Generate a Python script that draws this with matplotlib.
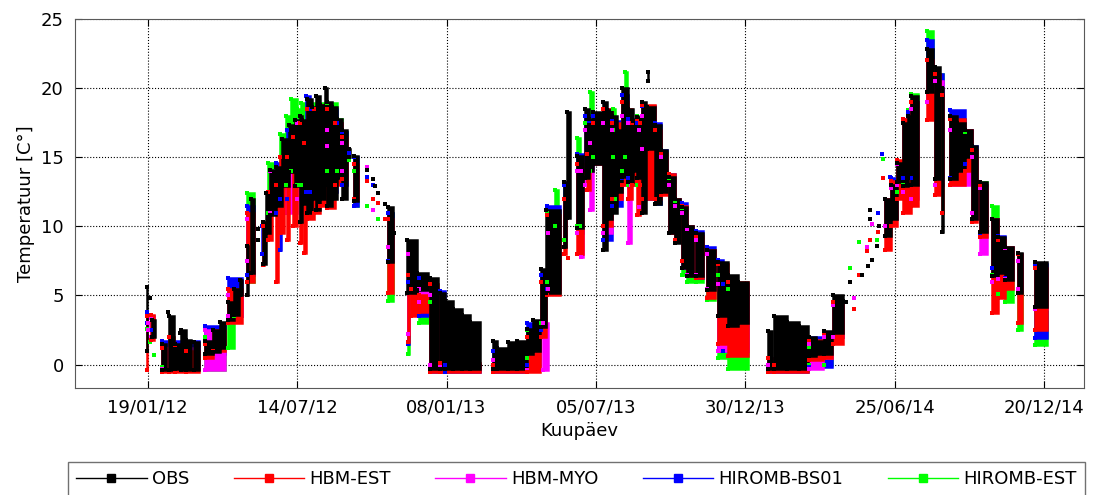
import numpy as np
import matplotlib
matplotlib.use("Agg")
import matplotlib.pyplot as plt
from matplotlib.lines import Line2D

plt.rcParams["font.family"] = ["DejaVu Sans"]
plt.rcParams["font.size"] = 13

# days counted from 01/01/2012; one record = (first day, last day, min T, max T)
obs = [
    (17, 17, 1.0, 5.6), (21, 21, 4.8, 4.8), (23, 27, 2.0, 3.2),
    (35, 40, -0.4, 1.5), (42, 42, 3.8, 3.8), (43, 49, -0.4, 3.5), (51, 56, -0.3, 1.5),
    (56, 56, 2.3, 2.3), (58, 63, -0.4, 2.5), (64, 69, -0.4, 1.8), (73, 79, -0.4, 1.6),
    (86, 96, 0.8, 1.7), (96, 104, 0.9, 2.5), (104, 110, 1.2, 3.1),
    (113, 120, 3.2, 4.5), (120, 126, 3.6, 5.5), (127, 130, 5.0, 6.1),
    (136, 137, 5.0, 8.6), (141, 144, 6.6, 12.0), (149, 149, 9.0, 9.0), (149, 149, 9.8, 9.8),
    (155, 158, 7.3, 10.3), (158, 163, 9.5, 12.4), (163, 170, 10.8, 14.1), (170, 177, 11.5, 14.3),
    (177, 185, 12.9, 16.3), (185, 193, 13.9, 17.3), (193, 198, 12.9, 17.7), (198, 201, 10.3, 18.0),
    (201, 207, 11.6, 17.7), (207, 213, 11.0, 19.2), (213, 218, 12.0, 18.6), (218, 222, 11.2, 19.4),
    (222, 228, 12.0, 18.8), (228, 230, 13.0, 20.0), (230, 236, 11.5, 19.0), (236, 242, 12.0, 18.6),
    (242, 248, 13.5, 17.8), (248, 254, 12.0, 17.0), (256, 258, 15.0, 15.6), (263, 267, 11.8, 15.1),
    (278, 278, 14.1, 14.1), (285, 285, 13.4, 13.4), (287, 287, 12.9, 12.9),
    (291, 291, 12.4, 12.4), (299, 299, 11.6, 11.6), (303, 309, 7.4, 11.4),
    (310, 310, 9.5, 9.5), (325, 337, 5.2, 9.0), (337, 350, 5.4, 6.6), (355, 355, 6.1, 6.1),
    (352, 362, -0.3, 6.3), (364, 370, -0.3, 5.2), (370, 380, -0.3, 4.6),
    (380, 390, -0.3, 4.0), (390, 400, -0.3, 3.6), (400, 412, -0.3, 3.1),
    (427, 432, -0.3, 1.7), (432, 445, -0.3, 1.2), (445, 455, -0.3, 1.6), (455, 467, -0.3, 1.7),
    (467, 475, 0.8, 2.6), (475, 483, 1.0, 3.2), (484, 490, 2.7, 6.9), (490, 506, 5.2, 11.2),
    (511, 514, 8.5, 13.2), (515, 518, 10.6, 18.3), (526, 534, 9.9, 15.1),
    (536, 541, 13.5, 18.5), (541, 546, 14.0, 17.8), (546, 556, 14.5, 18.3), (557, 562, 8.3, 19.0),
    (562, 568, 10.5, 18.4), (568, 574, 11.0, 18.0), (574, 580, 12.5, 17.0), (580, 587, 13.6, 20.0),
    (587, 593, 13.2, 18.5), (593, 598, 14.0, 17.6), (598, 604, 13.5, 17.9), (604, 608, 11.0, 19.0),
    (611, 611, 20.5, 21.2), (610, 619, 15.6, 18.6), (619, 626, 11.6, 17.3), (626, 633, 12.5, 15.5),
    (635, 642, 9.5, 13.6), (642, 649, 8.8, 12.0), (651, 657, 7.0, 11.4), (657, 664, 6.4, 10.0),
    (667, 676, 6.4, 9.5), (681, 690, 5.4, 8.3),
    (694, 705, 3.5, 7.4), (705, 717, 2.8, 6.5), (717, 729, 3.0, 6.0),
    (753, 757, -0.3, 2.4), (760, 775, -0.3, 3.5), (775, 790, -0.3, 3.1), (790, 800, -0.3, 2.8),
    (801, 810, 0.6, 2.0), (810, 818, 0.8, 1.7), (819, 828, 0.8, 2.4), (830, 842, 2.3, 5.0),
    (842, 842, 4.6, 4.6), (845, 845, 4.5, 4.5), (850, 850, 6.0, 6.0),
    (864, 864, 6.5, 6.5), (871, 871, 7.1, 7.1), (873, 873, 10.5, 10.5), (873, 873, 11.2, 11.2),
    (876, 876, 7.6, 7.6), (882, 882, 8.6, 8.6), (884, 884, 10.0, 10.0),
    (891, 898, 9.3, 12.0), (898, 905, 10.5, 13.0), (906, 912, 13.2, 14.6), (913, 918, 12.9, 17.5),
    (918, 922, 13.5, 18.0), (922, 930, 13.0, 19.4),
    (941, 948, 19.7, 22.8), (950, 956, 13.4, 21.5), (959, 960, 9.6, 20.0),
    (968, 976, 13.4, 18.0), (976, 986, 14.0, 17.5), (986, 994, 15.0, 17.0), (994, 1000, 10.5, 15.8),
    (1004, 1012, 9.6, 13.2), (1018, 1025, 6.4, 10.5), (1025, 1033, 6.6, 9.2), (1033, 1043, 6.1, 8.5),
    (1049, 1054, 5.2, 8.1), (1069, 1083, 4.2, 7.4),
]

hbm_est = [
    (17, 17, -0.4, 3.5), (22, 26, 1.8, 3.6), (35, 40, -0.5, 1.2), (43, 49, -0.5, 2.0),
    (51, 63, -0.5, 1.4), (64, 79, -0.5, 1.0), (86, 96, 0.5, 1.5), (96, 110, 1.0, 2.5),
    (113, 130, 3.0, 5.5), (136, 144, 6.0, 11.0), (155, 156, 7.2, 10.0), (160, 165, 9.0, 12.5),
    (170, 172, 6.0, 13.0), (175, 180, 9.5, 15.0), (183, 186, 9.0, 15.0), (190, 195, 10.0, 16.5),
    (198, 201, 8.8, 17.5), (203, 206, 8.1, 16.0), (207, 215, 10.5, 18.5), (215, 222, 11.0, 18.5),
    (222, 230, 11.5, 18.8), (230, 240, 11.3, 18.5), (240, 248, 13.0, 17.5), (248, 254, 13.4, 16.5),
    (263, 267, 12.0, 14.5), (278, 278, 13.3, 13.3), (285, 285, 12.0, 12.0),
    (291, 291, 11.7, 11.7), (299, 299, 10.5, 10.5), (303, 309, 5.2, 10.5),
    (326, 328, 1.6, 6.5), (330, 337, 3.5, 5.5), (340, 350, 3.8, 5.0),
    (352, 362, -0.5, 5.8), (364, 412, -0.55, 0.1), (427, 467, -0.55, 0.0), (467, 483, -0.5, 2.0),
    (484, 490, 2.0, 6.0), (491, 506, 5.0, 10.8), (516, 516, 7.7, 7.7), (511, 514, 8.0, 12.0),
    (526, 534, 8.0, 14.5), (538, 542, 12.6, 15.2), (546, 556, 14.5, 17.5),
    (557, 568, 10.0, 18.5), (568, 580, 12.0, 17.5), (580, 587, 13.0, 19.0),
    (587, 592, 12.0, 18.5), (592, 598, 13.0, 17.5), (598, 601, 10.8, 17.8), (601, 604, 13.0, 17.5),
    (604, 619, 12.0, 18.8), (619, 626, 12.0, 17.0), (626, 633, 12.3, 15.3),
    (635, 642, 9.5, 13.8), (642, 649, 9.0, 12.0), (651, 657, 7.5, 11.5), (657, 664, 6.4, 10.0),
    (667, 676, 6.3, 9.3), (681, 690, 4.8, 8.3), (694, 705, 1.5, 7.3), (705, 729, 0.6, 6.0),
    (753, 757, -0.55, 0.5), (760, 800, -0.55, 0.0), (801, 818, 0.3, 1.8), (819, 828, 0.5, 2.3),
    (830, 842, 1.5, 4.5), (854, 854, 4.0, 4.0), (860, 860, 6.5, 6.5), (870, 870, 8.2, 8.2),
    (874, 874, 9.0, 9.0), (883, 883, 9.6, 9.6), (889, 889, 13.5, 13.5),
    (891, 898, 8.3, 12.0), (898, 905, 10.0, 13.3), (906, 912, 12.0, 14.8), (913, 922, 11.0, 17.8),
    (922, 930, 11.5, 19.0), (941, 948, 17.7, 22.0), (950, 956, 12.3, 21.0), (959, 960, 11.0, 19.5),
    (968, 986, 13.0, 17.8), (986, 994, 14.0, 17.0), (994, 1000, 10.3, 15.5),
    (1004, 1012, 9.2, 13.0), (1018, 1025, 3.7, 10.5), (1025, 1033, 4.8, 9.0), (1033, 1043, 5.5, 8.5),
    (1049, 1054, 3.0, 8.0), (1069, 1083, 2.5, 7.0),
]

hbm_myo = [
    (18, 18, 2.5, 3.0), (22, 26, 2.0, 3.4), (35, 79, -0.3, 1.2), (86, 110, -0.4, 2.5),
    (113, 130, 3.5, 5.0), (136, 144, 7.5, 10.5), (163, 195, 11.0, 14.0), (195, 230, 12.0, 17.5),
    (230, 248, 15.8, 17.0), (248, 254, 14.0, 16.0), (263, 267, 12.0, 14.5),
    (278, 278, 14.3, 14.3), (285, 285, 11.2, 11.2), (303, 309, 8.5, 10.5), (326, 328, 2.2, 8.0),
    (340, 350, 4.5, 5.5), (352, 362, 0.0, 5.0), (364, 412, -0.3, 0.0), (427, 467, -0.3, 0.3),
    (467, 483, -0.4, 2.0), (486, 492, -0.4, 3.0), (492, 506, 5.5, 9.5), (511, 514, 8.5, 12.0),
    (526, 531, 9.5, 14.0), (531, 534, 7.8, 14.0), (536, 542, 13.0, 17.0), (542, 546, 11.2, 16.0),
    (557, 568, 9.5, 17.5), (568, 580, 12.0, 17.0), (580, 587, 13.0, 18.0),
    (587, 591, 8.8, 17.5), (591, 598, 13.0, 17.5), (600, 603, 11.4, 17.0), (604, 619, 15.6, 18.0),
    (619, 626, 12.0, 17.0), (626, 633, 12.5, 15.0), (635, 642, 9.5, 13.0), (642, 649, 9.0, 11.5),
    (651, 657, 7.0, 11.0), (657, 664, 6.5, 9.8),
    (667, 676, 6.5, 9.0), (681, 690, 5.5, 8.0), (694, 729, 1.0, 5.8), (753, 800, -0.3, 0.0),
    (801, 818, -0.3, 1.5), (819, 828, 0.5, 2.0), (830, 842, 2.0, 4.3),
    (854, 854, 4.8, 4.8), (870, 870, 8.5, 8.5), (876, 876, 10.2, 10.2),
    (891, 898, 10.0, 12.0), (898, 905, 10.5, 12.8), (906, 912, 13.0, 14.5),
    (913, 922, 12.5, 17.5), (922, 930, 12.0, 18.5),
    (941, 948, 19.0, 22.0), (950, 960, 13.0, 20.5), (968, 994, 13.0, 17.0),
    (994, 1000, 11.0, 15.0), (1004, 1012, 8.0, 12.8), (1018, 1025, 6.0, 10.5),
    (1025, 1033, 6.2, 9.0), (1033, 1043, 6.2, 8.4), (1049, 1054, 5.5, 7.5), (1069, 1083, 4.0, 7.0),
]

hiromb_bs01 = [
    (17, 17, 3.0, 3.8), (22, 26, 2.5, 3.5), (35, 79, -0.3, 1.7), (86, 110, 0.8, 2.8),
    (113, 130, 3.5, 6.3), (136, 144, 6.5, 11.5), (154, 156, 8.0, 10.0), (170, 183, 11.0, 14.6),
    (175, 176, 8.3, 12.0), (183, 195, 12.0, 17.0), (195, 205, 12.0, 17.5), (205, 210, 12.5, 19.4),
    (210, 242, 12.5, 18.5), (242, 248, 13.5, 17.5), (248, 254, 13.0, 16.8), (256, 256, 15.3, 15.3),
    (263, 267, 11.5, 15.0), (278, 278, 13.6, 13.6), (285, 285, 13.0, 13.0),
    (303, 309, 7.5, 11.0), (326, 328, 1.5, 6.0), (340, 350, 3.5, 6.3), (352, 362, -0.5, 5.0),
    (364, 370, -0.55, 5.3), (370, 412, -0.55, 0.0), (427, 467, -0.5, 1.0), (467, 483, 0.0, 3.0),
    (484, 490, 2.5, 6.5), (491, 506, 5.5, 11.5), (511, 514, 8.5, 13.0), (526, 534, 9.5, 15.2),
    (536, 541, 13.5, 18.0), (541, 546, 14.0, 17.6), (546, 556, 14.5, 18.0), (557, 568, 9.0, 18.5),
    (568, 580, 11.5, 17.6), (580, 587, 13.5, 19.5), (587, 598, 13.5, 17.8),
    (598, 604, 13.5, 17.5), (604, 619, 12.0, 18.7), (619, 626, 11.6, 17.5), (626, 633, 12.5, 15.5),
    (635, 642, 9.5, 13.8), (642, 649, 9.0, 12.0), (651, 657, 7.0, 11.7), (657, 664, 6.5, 10.0),
    (667, 676, 6.3, 9.7), (681, 690, 5.5, 8.5),
    (694, 700, 1.0, 7.6), (700, 729, 1.0, 5.8), (753, 800, -0.5, 0.5), (801, 828, -0.2, 2.0),
    (830, 842, 2.0, 4.3), (883, 883, 11.0, 11.0), (888, 888, 15.2, 15.2), (897, 897, 13.6, 13.6),
    (891, 898, 10.0, 12.0), (898, 905, 10.5, 13.5), (906, 912, 13.0, 14.5),
    (913, 918, 13.5, 17.8), (918, 922, 13.5, 18.3), (922, 930, 13.5, 19.0),
    (941, 948, 19.0, 23.5), (950, 960, 13.0, 21.0), (968, 986, 13.5, 18.4),
    (986, 994, 14.5, 17.0), (994, 1000, 10.5, 15.8), (1004, 1012, 9.5, 13.0),
    (1018, 1025, 7.0, 10.5), (1025, 1033, 6.6, 9.3), (1033, 1043, 6.3, 8.5), (1049, 1054, 5.3, 8.0),
    (1069, 1083, 1.9, 7.3),
]

hiromb_est = [
    (17, 17, 2.6, 3.0), (21, 21, 1.6, 1.6), (25, 25, 0.7, 0.7), (35, 79, -0.2, 1.5),
    (86, 110, -0.4, 2.0), (113, 120, 1.2, 3.0), (120, 130, 3.5, 5.5), (136, 144, 6.0, 12.4),
    (160, 170, 11.0, 14.6), (175, 182, 12.0, 16.7), (182, 188, 13.0, 18.0), (188, 195, 14.0, 19.2),
    (195, 200, 13.0, 18.5), (200, 230, 13.0, 18.9), (230, 242, 14.0, 18.9), (242, 248, 14.0, 17.8),
    (248, 254, 14.0, 16.8), (256, 258, 14.8, 14.8), (263, 267, 11.5, 14.0), (278, 278, 11.5, 11.5),
    (291, 291, 10.5, 10.5), (303, 309, 4.6, 11.0), (326, 328, 0.8, 6.0), (340, 350, 3.0, 5.5),
    (352, 362, -0.3, 4.5), (364, 412, -0.4, 0.0), (427, 467, -0.4, 0.0), (467, 483, 0.5, 2.5),
    (484, 490, 3.0, 6.5), (491, 500, 6.0, 11.0), (500, 504, 10.0, 12.6), (511, 514, 9.0, 13.0),
    (526, 530, 10.0, 16.4), (530, 534, 10.0, 14.0), (536, 542, 13.5, 17.5), (542, 545, 14.0, 19.7),
    (546, 556, 15.0, 17.5), (557, 568, 10.0, 18.5), (569, 571, 15.0, 18.5), (571, 580, 12.0, 17.0),
    (580, 583, 14.0, 19.0), (583, 586, 15.0, 21.2), (587, 598, 13.0, 17.6), (598, 619, 13.0, 18.0),
    (619, 626, 11.6, 17.0), (626, 633, 12.5, 15.4), (635, 642, 9.5, 13.5), (642, 649, 9.0, 11.8),
    (651, 657, 6.5, 11.3), (657, 664, 6.0, 9.8), (667, 676, 6.0, 9.3), (681, 690, 4.7, 8.0),
    (694, 705, 0.5, 6.5), (705, 729, -0.3, 5.5), (753, 800, -0.4, 0.0), (801, 818, 0.0, 1.3),
    (819, 828, 0.0, 2.0), (830, 842, 2.0, 4.5), (850, 850, 7.0, 7.0), (860, 860, 8.9, 8.9),
    (882, 882, 9.0, 9.0), (889, 889, 14.9, 14.9), (891, 898, 10.0, 12.0), (898, 905, 10.5, 13.0),
    (906, 912, 12.5, 14.5), (913, 918, 13.0, 17.8), (918, 922, 13.5, 18.4), (922, 930, 13.5, 19.6),
    (941, 948, 19.0, 24.1), (950, 960, 13.0, 21.0), (968, 986, 13.5, 17.8), (986, 994, 14.5, 16.8),
    (994, 1000, 11.0, 15.5), (1004, 1012, 9.5, 13.2), (1018, 1025, 6.5, 11.5),
    (1025, 1033, 5.1, 9.0), (1033, 1043, 4.5, 8.4), (1049, 1054, 2.5, 7.5), (1069, 1083, 1.4, 7.0),
]

names = ["OBS", "HBM-EST", "HBM-MYO", "HIROMB-BS01", "HIROMB-EST"]
colours = ["black", "#ff0000", "#ff00ff", "#0000ff", "#00ff00"]
data = [obs, hbm_est, hbm_myo, hiromb_bs01, hiromb_est]

tick_days = [18, 195, 372, 549, 726, 903, 1080]
tick_labels = ["19/01/12", "14/07/12", "08/01/13", "05/07/13", "30/12/13", "25/06/14", "20/12/14"]


def draw_series(ax, recs, colour):
    r = np.array(recs, dtype=float)
    ax.bar(r[:, 0], r[:, 3] - r[:, 2], width=r[:, 1] - r[:, 0], bottom=r[:, 2], align='edge',
           color=colour, edgecolor=colour, linewidth=1.8)
    ax.plot(r[:, 0], r[:, 2], 's', color=colour, ms=2.4, mew=0)
    ax.plot(r[:, 0], r[:, 3], 's', color=colour, ms=2.4, mew=0)


fig = plt.figure(figsize=(10.93, 4.95), dpi=100)
ax = fig.add_axes([0.0686, 0.2168, 0.9232, 0.7448])

# models first, observations on top
for i in [4, 3, 2, 1, 0]:
    draw_series(ax, data[i], colours[i])

ax.set_xlim(-68, 1127)
ax.set_ylim(-1.67, 25)
ax.set_yticks([0, 5, 10, 15, 20, 25])
ax.set_xticks(tick_days)
ax.set_xticklabels(tick_labels)
ax.grid(True, linestyle=':', color='black', linewidth=0.8)
ax.set_axisbelow(True)
ax.tick_params(direction='in', top=True, right=True, length=5, pad=8, labelsize=13)
for s in ax.spines.values():
    s.set_color('0.35')

ax.set_xlabel('Kuupäev', fontsize=13, labelpad=4)
ax.set_ylabel('Temperatuur [C°]', fontsize=13, labelpad=4)

handles = [Line2D([], [], color=c, marker='s', ms=6, lw=1) for c in colours]
leg = fig.legend(handles, names, loc='upper left', ncol=5,
                 bbox_to_anchor=(68 / 1093, 1 - 462 / 495), borderaxespad=0,
                 fontsize=13, handlelength=3.9, frameon=True, fancybox=False,
                 borderpad=0.45, columnspacing=2.45, handletextpad=0.3)
leg.get_frame().set_edgecolor('0.3')
leg.get_frame().set_linewidth(1.0)

fig.savefig('out.png', dpi=100)
